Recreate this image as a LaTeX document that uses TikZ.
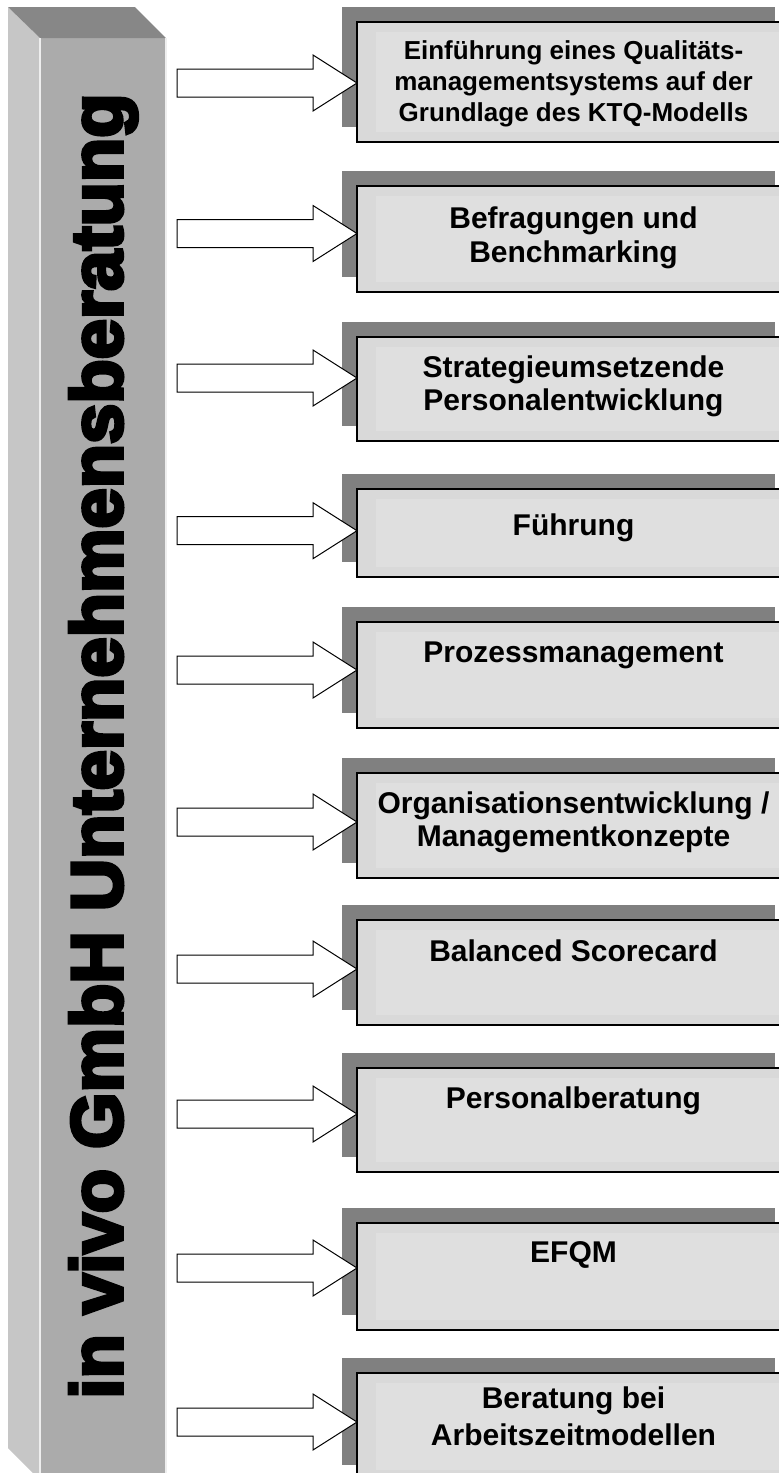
\documentclass[tikz,border=0pt]{standalone}
\usepackage{fontspec}
\setmainfont{Liberation Sans}
\newfontfamily\pillarfont[BoldFeatures={FakeBold=5}]{Liberation Sans}
\definecolor{pilltop}{HTML}{878787}
\definecolor{pillleft}{HTML}{C6C6C6}
\definecolor{pillfront}{HTML}{ABABAB}
\definecolor{shadowgray}{HTML}{808080}
\definecolor{boxgray}{HTML}{D9D9D9}
\definecolor{boxinner}{HTML}{DFDFDF}
\tikzset{
  svcbox/.style={draw=black, line width=1.3pt, fill=boxgray},
  svcshadow/.style={fill=shadowgray, draw=none},
  blockarrow/.style={draw=black, line width=1pt, fill=white, line join=miter},
  svctext/.style={font=\bfseries\fontsize{30}{34}\selectfont, anchor=base, inner sep=0pt},
  svctextsmall/.style={font=\bfseries\fontsize{26}{31}\selectfont, anchor=base, inner sep=0pt},
}
% #1 name, #2 top, #3 bottom, #4 arrow centre y
\newcommand{\svcrow}[4]{%
  \fill[shadowgray] (341.5,#2-15) rectangle (774.5,#3-15);
  \node[svcbox, minimum width=433pt, minimum height=#3pt-#2pt, anchor=north west, inner sep=0pt] (#1) at (357,#2) {};
  \fill[boxinner] (376,#2+10) rectangle (790,#3-10);
  \draw[svcbox, fill=none] (357,#2) rectangle (790,#3);
  \coordinate (#1tip) at (#1.west |- 0,#4);
  \draw[blockarrow] (#1tip) -- ++(-44,-28) -- ++(0,14) -- ++(-136,0) -- ++(0,28) -- ++(136,0) -- ++(0,14) -- cycle;
}
\begin{document}
\begin{tikzpicture}[x=1pt,y=-1pt]
\useasboundingbox (0,0) rectangle (779,1473);
% pillar
\fill[pillleft] (8,7) -- (40,38) -- (40,1480) -- (33,1473) -- (8,1448) -- cycle;
\fill[pillfront] (40,38) rectangle (166,1480);
\fill[pilltop] (8,7) -- (135,7) -- (166,38) -- (40,38) -- cycle;
\draw[white!80!pillfront, line width=1.2pt] (40,38) -- (40,1480);
\draw[white!80!pillfront, line width=1.2pt] (166,38) -- (166,1480);
\node[font=\pillarfont\bfseries\fontsize{72.5}{80}\selectfont, rotate=90, anchor=base, inner sep=0pt] (pillar) at (122,746) {in vivo GmbH Unternehmensberatung};
% rows
\svcrow{b1}{22}{142}{83}
\svcrow{b2}{186}{292}{233.5}
\svcrow{b3}{337}{441}{378}
\svcrow{b4}{489}{577}{530.7}
\svcrow{b5}{622}{728}{670}
\svcrow{b6}{773}{878}{822}
\svcrow{b7}{920}{1025}{969}
\svcrow{b8}{1068}{1172}{1114}
\svcrow{b9}{1223}{1330}{1268}
\svcrow{b10}{1373}{1480}{1422}
% texts
\node[svctextsmall] (t1a) at (573.5,59.5) {Einführung eines Qualitäts-};
\node[svctextsmall] (t1b) at (573.5,90.5) {managementsystems auf der};
\node[svctextsmall] (t1c) at (573.5,121.5) {Grundlage des KTQ-Modells};
\node[svctext] (t2a) at (573.5,228) {Befragungen und};
\node[svctext] (t2b) at (573.5,262) {Benchmarking};
\node[svctext] (t3a) at (573.5,377) {Strategieumsetzende};
\node[svctext] (t3b) at (573.5,410) {Personalentwicklung};
\node[svctext] (t4) at (573.5,535) {Führung};
\node[svctext] (t5) at (573.5,662) {Prozessmanagement};
\node[svctext] (t6a) at (573.5,813) {Organisationsentwicklung /};
\node[svctext] (t6b) at (573.5,846) {Managementkonzepte};
\node[svctext] (t7) at (573.5,961) {Balanced Scorecard};
\node[svctext] (t8) at (573.5,1108) {Personalberatung};
\node[svctext] (t9) at (573.5,1262) {EFQM};
\node[svctext] (t10a) at (573.5,1408) {Beratung bei};
\node[svctext] (t10b) at (573.5,1445) {Arbeitszeitmodellen};
\end{tikzpicture}
\end{document}
